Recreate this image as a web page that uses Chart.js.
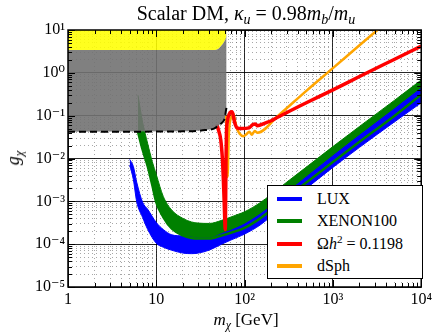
<!DOCTYPE html>
<html><head><meta charset="utf-8">
<script src="https://cdn.jsdelivr.net/npm/chart.js"></script>
<style>
html,body{margin:0;padding:0;background:#fff;}
#wrap{position:relative;width:435px;height:332px;overflow:hidden;font-family:'Liberation Serif','DejaVu Serif',serif;color:#000;}
canvas{position:absolute;left:0;top:0;}
.ov{position:absolute;white-space:nowrap;line-height:1;}
#title{left:246px;top:3px;transform:translateX(-50%);font-size:20px;}
#xlab{left:246px;top:311px;transform:translateX(-50%);font-size:17px;}
#ylab{left:13px;top:158px;transform:translate(-50%,-50%) rotate(-90deg);font-size:18px;}
sub{font-size:70%;vertical-align:-0.3em;line-height:0;}
sup{font-size:70%;vertical-align:0.5em;line-height:0;}
#legend{left:267px;top:185px;width:156px;height:94px;border:1px solid #000;background:#fff;box-sizing:border-box;}
.row{position:absolute;left:0;width:100%;height:22px;}
.sw{position:absolute;left:9px;top:9px;width:25px;height:4px;}
.lt{position:absolute;left:49px;top:3px;font-size:16px;}
</style>
</head><body>
<div id="wrap">
<canvas id="c" width="435" height="332"></canvas>
<div id="title" class="ov">Scalar DM, <i>κ<sub>u</sub></i> = 0.98<i>m<sub>b</sub></i>/<i>m<sub>u</sub></i></div>
<div id="xlab" class="ov"><i>m<sub>χ</sub></i> [GeV]</div>
<div id="ylab" class="ov"><i>g<sub>χ</sub></i></div>
<div id="legend" class="ov"></div>
</div>
<script>
// ---- tick labels ----
const xMajor = [1, 10, 100, 1000, 10000];
const xTickLabels = ['1', '10', '10²', '10³', '10⁴'];
const yMajor = [1e-5, 1e-4, 1e-3, 1e-2, 1e-1, 1, 10];
const yTickLabels = ['10⁻⁵', '10⁻⁴', '10⁻³', '10⁻²', '10⁻¹', '10⁰', '10¹'];

// ---- series names ----
const seriesNames = ['LUX', 'XENON100', 'Ωh² = 0.1198', 'dSph'];
const legendHtml = ['LUX', 'XENON100', 'Ω<i>h</i><sup>2</sup> = 0.1198', 'dSph'];

// ---- excluded regions (gray) and perturbativity (yellow) ----
const exclX = [1, 20, 36, 45, 51, 55.6, 59.5, 61.6, 62.5];
const exclLow = [0.042, 0.043, 0.046, 0.05, 0.06, 0.069, 0.086, 0.135, 0.16];
const yellowLow = [3.4, 3.4, 3.4, 3.4, 3.7, 4.5, 5.6, 6.8, 9.0];

// ---- LUX band ----
const luxX = [5, 5.5, 6, 7, 8, 10, 12, 15, 20, 25, 30, 40, 55, 70, 85, 100, 150, 200, 300, 500, 1000, 2000, 5000, 10000];
const luxHi = [9.5e-3, 6.5e-3, 2.8e-3, 9.5e-4, 6.5e-4, 3.2e-4, 2.2e-4, 1.65e-4, 1.55e-4, 1.45e-4, 1.38e-4, 1.38e-4, 1.75e-4, 2.1e-4, 2.5e-4, 2.95e-4, 5.0e-4, 7.9e-4, 1.58e-3, 3.7e-3, 0.0115, 0.0347, 0.145, 0.437];
const luxLo = [7e-3, 3.2e-3, 9.8e-4, 4.2e-4, 2.2e-4, 1.05e-4, 8.5e-5, 7.2e-5, 6.2e-5, 6.0e-5, 6.2e-5, 7.3e-5, 1.0e-4, 1.25e-4, 1.48e-4, 1.72e-4, 2.8e-4, 4.5e-4, 8.7e-4, 2.0e-3, 6.2e-3, 0.0182, 0.072, 0.2];

// ---- XENON100 band ----
const xenX = [6.2, 7, 8, 9, 10, 12, 15, 20, 25, 30, 40, 55, 70, 85, 100, 150, 200, 300, 500, 1000, 2000, 5000, 10000];
const xenHi = [0.3, 0.07, 0.022, 0.0085, 0.0042, 1.3e-3, 6.2e-4, 4.0e-4, 3.3e-4, 3.1e-4, 3.05e-4, 3.6e-4, 4.3e-4, 5.0e-4, 5.7e-4, 9.3e-4, 1.45e-3, 2.8e-3, 6.3e-3, 0.019, 0.056, 0.23, 0.68];
const xenLo = [0.042, 0.016, 0.0065, 0.0024, 9.5e-4, 4.3e-4, 2.3e-4, 1.6e-4, 1.4e-4, 1.35e-4, 1.35e-4, 1.6e-4, 1.85e-4, 2.1e-4, 2.4e-4, 4.0e-4, 6.3e-4, 1.23e-3, 2.75e-3, 8.3e-3, 0.0245, 0.1, 0.31];

// ---- relic density line ----
const omegaX = [48.5, 50, 53.7, 56, 57.3, 58.7, 59.8, 60.4, 61, 61.5, 62.3, 63.5, 65, 67, 70, 72, 74, 77, 82, 93, 112, 124, 132, 140, 170, 200, 240, 500, 1000, 2000, 5000, 10000];
const omegaY = [0.062, 0.05, 0.027, 0.01, 0.0037, 0.001, 3e-4, 2.2e-4, 1e-3, 0.008, 0.04, 0.07, 0.09, 0.11, 0.122, 0.123, 0.105, 0.07, 0.052, 0.05, 0.052, 0.062, 0.064, 0.058, 0.067, 0.076, 0.093, 0.2, 0.4, 0.82, 2.08, 4.2];

// ---- dSph line ----
const dsphX = [61.7, 62.2, 62.8, 63.5, 64.3, 65, 66, 67.5, 69, 72, 75, 78, 82, 88, 97, 105, 113, 121, 130, 140, 240, 500, 1000, 2000, 5000];
const dsphY = [0.1, 0.04, 0.012, 0.005, 0.0037, 0.008, 0.03, 0.06, 0.08, 0.1, 0.11, 0.075, 0.05, 0.038, 0.033, 0.037, 0.042, 0.036, 0.044, 0.04, 0.1, 0.38, 1.29, 4.4, 22];

const colors = {lux: '#0000ff', xen: '#008000', omega: '#ff0000', dsph: '#ffa500'};

const pts = (X, Y) => X.map((x, i) => ({x, y: Y[i]}));
const minorOf = majors => {
  const out = [];
  majors.forEach((m, k) => {
    out.push({value: m, major: true});
    if (k < majors.length - 1) for (let j = 2; j <= 9; j++) out.push({value: m * j, major: false});
  });
  return out;
};

// legend
const legColors = [colors.lux, colors.xen, colors.omega, colors.dsph];
const leg = document.getElementById('legend');
legendHtml.forEach((h, i) => {
  const r = document.createElement('div');
  r.className = 'row';
  r.style.top = (2 + i * 22.3) + 'px';
  r.innerHTML = '<span class="sw" style="background:' + legColors[i] + '"></span><span class="lt">' + h + '</span>';
  leg.appendChild(r);
});

const base = {pointRadius: 0, pointHoverRadius: 0, tension: 0, cubicInterpolationMode: 'monotone'};

const frame = {
  id: 'frame',
  afterDatasetsDraw(chart) {
    const {ctx, chartArea: a, scales: {x, y}} = chart;
    ctx.save();
    ctx.strokeStyle = '#000';
    ctx.lineWidth = 1;
    ctx.beginPath();
    x.ticks.forEach(t => {
      const p = Math.round(x.getPixelForValue(t.value)) + 0.5;
      const L = t.major ? 7 : 4;
      ctx.moveTo(p, a.bottom); ctx.lineTo(p, a.bottom - L);
      ctx.moveTo(p, a.top); ctx.lineTo(p, a.top + L);
    });
    y.ticks.forEach(t => {
      const p = Math.round(y.getPixelForValue(t.value)) + 0.5;
      const L = t.major ? 7 : 4;
      ctx.moveTo(a.left, p); ctx.lineTo(a.left + L, p);
      ctx.moveTo(a.right, p); ctx.lineTo(a.right - L, p);
    });
    ctx.stroke();
    ctx.lineWidth = 1.5;
    ctx.strokeRect(a.left, a.top, a.right - a.left, a.bottom - a.top);
    ctx.restore();
  }
};

const gridOpts = {
  color: c => (c.tick && c.tick.major) ? 'rgba(0,0,0,0.85)' : 'rgba(80,80,80,0.5)',
  lineWidth: 1,
  drawTicks: false
};
const borderOpts = {display: false, dash: c => (c.tick && c.tick.major) ? [] : [1, 3]};
const tickFont = {family: "'Liberation Serif','DejaVu Serif',serif", size: 16};

new Chart(document.getElementById('c'), {
  type: 'line',
  data: {
    datasets: [
      {label: 'excluded boundary', data: pts(exclX, exclLow), borderColor: '#000', borderWidth: 2, borderDash: [7, 4], fill: false, ...base},
      {label: 'excluded', data: pts(exclX, exclLow), borderColor: 'rgba(0,0,0,0)', borderWidth: 0, backgroundColor: 'rgba(114,114,114,0.9)', fill: 2, ...base},
      {label: 'non-perturbative', data: pts(exclX, yellowLow), borderColor: 'rgba(0,0,0,0)', borderWidth: 0, backgroundColor: 'rgba(255,255,0,0.88)', fill: 'end', ...base},
      {label: seriesNames[2], data: pts(omegaX, omegaY), borderColor: colors.omega, borderWidth: 3.5, fill: false, ...base},
      {label: seriesNames[3], data: pts(dsphX, dsphY), borderColor: colors.dsph, borderWidth: 2.5, fill: false, ...base},
      {label: 'XENON100 edge', data: pts(xenX, xenLo), borderColor: colors.xen, borderWidth: 2.5, fill: false, ...base},
      {label: seriesNames[0], data: pts(luxX, luxHi), borderColor: colors.lux, borderWidth: 1, backgroundColor: colors.lux, fill: '+1', ...base},
      {label: 'LUX low', data: pts(luxX, luxLo), borderColor: colors.lux, borderWidth: 1, fill: false, ...base},
      {label: seriesNames[1], data: pts(xenX, xenHi), borderColor: colors.xen, borderWidth: 1, backgroundColor: colors.xen, fill: '+1', ...base},
      {label: 'XENON100 low', data: pts(xenX, xenLo), borderColor: colors.xen, borderWidth: 1, fill: false, ...base}
    ]
  },
  options: {
    responsive: false,
    animation: false,
    devicePixelRatio: 1,
    layout: {padding: {left: 0, right: 11, top: 30, bottom: 0}, autoPadding: false},
    plugins: {legend: {display: false}, tooltip: {enabled: false}, title: {display: false}},
    scales: {
      x: {
        type: 'logarithmic', min: 1, max: 10000,
        afterBuildTicks: s => { s.ticks = minorOf(xMajor); },
        afterFit: s => { s.height = 45; },
        grid: gridOpts, border: borderOpts,
        ticks: {
          autoSkip: false, maxRotation: 0, minRotation: 0, padding: 3, color: '#000', font: tickFont,
          callback: v => { const k = xMajor.indexOf(v); return k >= 0 ? xTickLabels[k] : ''; }
        }
      },
      y: {
        type: 'logarithmic', min: 1e-5, max: 10,
        afterBuildTicks: s => { s.ticks = minorOf(yMajor); },
        afterFit: s => { s.width = 68; },
        grid: gridOpts, border: borderOpts,
        ticks: {
          autoSkip: false, padding: 3, color: '#000', font: tickFont,
          callback: v => { const k = yMajor.indexOf(v); return k >= 0 ? yTickLabels[k] : ''; }
        }
      }
    }
  },
  plugins: [frame]
});
</script>
</body></html>
